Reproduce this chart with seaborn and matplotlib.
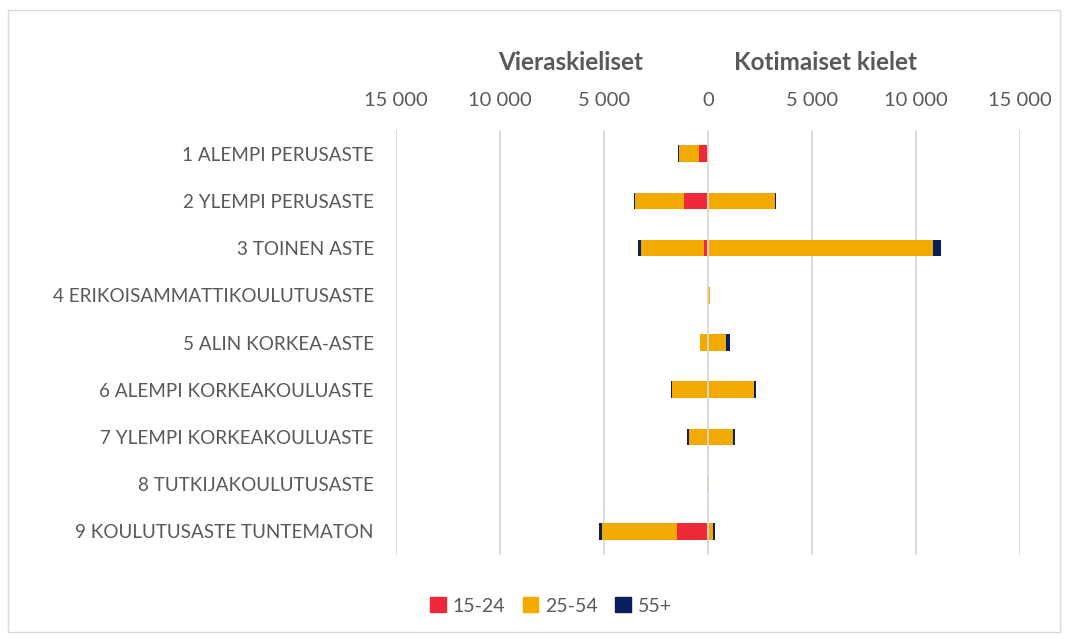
import matplotlib
matplotlib.use("Agg")
import matplotlib.pyplot as plt
import seaborn as sns
import pandas as pd
import numpy as np
from matplotlib.patches import Rectangle, Patch

categories = ["1 ALEMPI PERUSASTE", "2 YLEMPI PERUSASTE", "3 TOINEN ASTE",
              "4 ERIKOISAMMATTIKOULUTUSASTE", "5 ALIN KORKEA-ASTE",
              "6 ALEMPI KORKEAKOULUASTE", "7 YLEMPI KORKEAKOULUASTE",
              "8 TUTKIJAKOULUTUSASTE", "9 KOULUTUSASTE TUNTEMATON"]

# Vieraskieliset (foreign-language speakers), drawn to the left
foreign_15_24 = [430, 1170, 190, 0, 0, 0, 0, 0, 1480]
foreign_25_54 = [960, 2320, 3030, 40, 370, 1730, 930, 30, 3620]
foreign_55 = [40, 50, 160, 20, 30, 30, 60, 10, 145]

# Kotimaiset kielet (domestic languages), drawn to the right
domestic_15_24 = [0, 20, 20, 0, 0, 0, 0, 0, 20]
domestic_25_54 = [0, 3190, 10790, 100, 880, 2230, 1200, 50, 210]
domestic_55 = [0, 60, 370, 20, 176, 80, 80, 20, 90]

ticks = [-15000, -10000, -5000, 0, 5000, 10000, 15000]
tick_labels = ["15 000", "10 000", "5 000", "0", "5 000", "10 000", "15 000"]

RED, YEL, NAVY = "#EE2A3A", "#F2A900", "#0B1F5E"
GREY_TXT = "#595959"

plt.rcParams["font.family"] = ["Lato", "DejaVu Sans"]

fig = plt.figure(figsize=(10.68, 6.39), dpi=100)
ax = fig.add_axes([396/1068, 84/639, 624/1068, 425/639])

f1 = np.array(foreign_15_24); f2 = np.array(foreign_25_54); f3 = np.array(foreign_55)
d1 = np.array(domestic_15_24); d2 = np.array(domestic_25_54); d3 = np.array(domestic_55)

layers = [
    (-(f1 + f2 + f3), NAVY), (-(f1 + f2), YEL), (-f1, RED),
    (d1 + d2 + d3, NAVY), (d1 + d2, YEL), (d1, RED),
]
for vals, col in layers:
    df = pd.DataFrame({"cat": categories, "val": vals})
    sns.barplot(data=df, x="val", y="cat", orient="h", color=col, width=0.35,
                ax=ax, saturation=1, zorder=3, linewidth=0)

ax.set_xlim(-15000, 15000)
ax.set_ylim(8.5, -0.5)
ax.set_xticks(ticks)
ax.set_xticklabels(tick_labels)
ax.xaxis.tick_top()
ax.tick_params(axis="x", length=0, pad=21, labelsize=14.5, labelcolor=GREY_TXT)
ax.tick_params(axis="y", length=0, pad=16, labelsize=13.6, labelcolor=GREY_TXT)
for lab in ax.get_xticklabels():
    lab.set_verticalalignment("center")
ax.set_xlabel(""); ax.set_ylabel("")
for s in ax.spines.values():
    s.set_visible(False)
for t in ticks:
    ax.axvline(t, color="#D9D9D9", lw=1.3, zorder=1 if t != 0 else 4)

fig.text(571/1068, 1 - 63/639, "Vieraskieliset", ha="center", va="center",
         fontsize=17.5, fontweight="bold", color=GREY_TXT)
fig.text(825/1068, 1 - 63/639, "Kotimaiset kielet", ha="center", va="center",
         fontsize=17.5, fontweight="bold", color=GREY_TXT)

handles = [Patch(color=RED, label="15-24"), Patch(color=YEL, label="25-54"),
           Patch(color=NAVY, label="55+")]
leg = fig.legend(handles=handles, loc="center", bbox_to_anchor=(551/1068, 1 - 606/639),
                 ncol=3, frameon=False, fontsize=14, handlelength=0.8, handleheight=0.8,
                 handletextpad=0.35, columnspacing=0.9)
for t in leg.get_texts():
    t.set_color(GREY_TXT)

fig.patches.append(Rectangle((8/1068, 7/639), 1052/1068, 622/639, transform=fig.transFigure,
                             fill=False, edgecolor="#D9D9D9", lw=1))

fig.savefig("out.png", dpi=100)
